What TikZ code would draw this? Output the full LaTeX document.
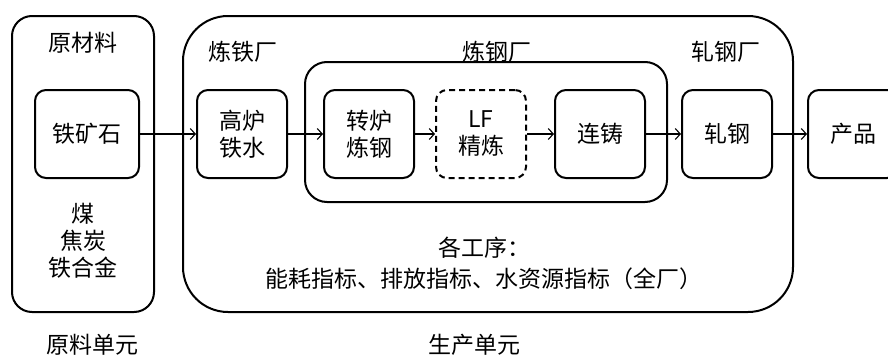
\documentclass[tikz,border=0pt]{standalone}
\usepackage{fontspec}
\setmainfont{Noto Sans CJK SC}
\usepackage{tikz}
\usetikzlibrary{arrows.meta,positioning}

\begin{document}
\begin{tikzpicture}[x=1pt,y=-1pt,
  font=\fontsize{23}{27}\selectfont,
  box/.style={draw, line width=2pt, rounded corners=11pt, minimum width=90pt, minimum height=88pt, align=center, inner sep=0pt},
  dbox/.style={box, dash pattern=on 6pt off 4pt},
  arr/.style={line width=1.1pt, -{Straight Barb[length=5pt,width=11pt]}}]
\useasboundingbox (0,0) rectangle (888,356);

% Outer units
\draw[line width=2pt, rounded corners=20pt] (12,16) rectangle (154,312);
\draw[line width=2pt, rounded corners=45pt] (183,16) rectangle (793,312);
\draw[line width=2pt, rounded corners=22pt] (305,62) rectangle (667,202);

% Labels
\node (rawlbl) at (83,43) {原材料};
\node (ironlbl) at (243,52) {炼铁厂};
\node (steellbl) at (497,52) {炼钢厂};
\node (rolllbl) at (726,52) {轧钢厂};
\node[align=center] (fuel) at (83,241) {煤\\焦炭\\铁合金};
\node[align=center] (index) at (484,263) {各工序：\\[4pt]能耗指标、排放指标、水资源指标（全厂）};
\node (rawunit) at (92,345) {原料单元};
\node (produnit) at (474,345) {生产单元};

% Process boxes
\node[box, minimum width=104pt] (ore) at (87,134) {铁矿石};
\node[box] (bf) at (242,134) {高炉\\铁水};
\node[box] (bof) at (369,134) {转炉\\炼钢};
\node[dbox] (lf) at (481,134) {LF\\精炼};
\node[box] (cc) at (600,134) {连铸};
\node[box] (roll) at (727,134) {轧钢};
\node[box] (prod) at (853,134) {产品};

% Flow
\draw[arr] (ore) -- (bf);
\draw[arr] (bf) -- (bof);
\draw[arr] (bof) -- (lf);
\draw[arr] (lf) -- (cc);
\draw[arr] (cc) -- (roll);
\draw[arr] (roll) -- (prod);
\end{tikzpicture}
\end{document}
